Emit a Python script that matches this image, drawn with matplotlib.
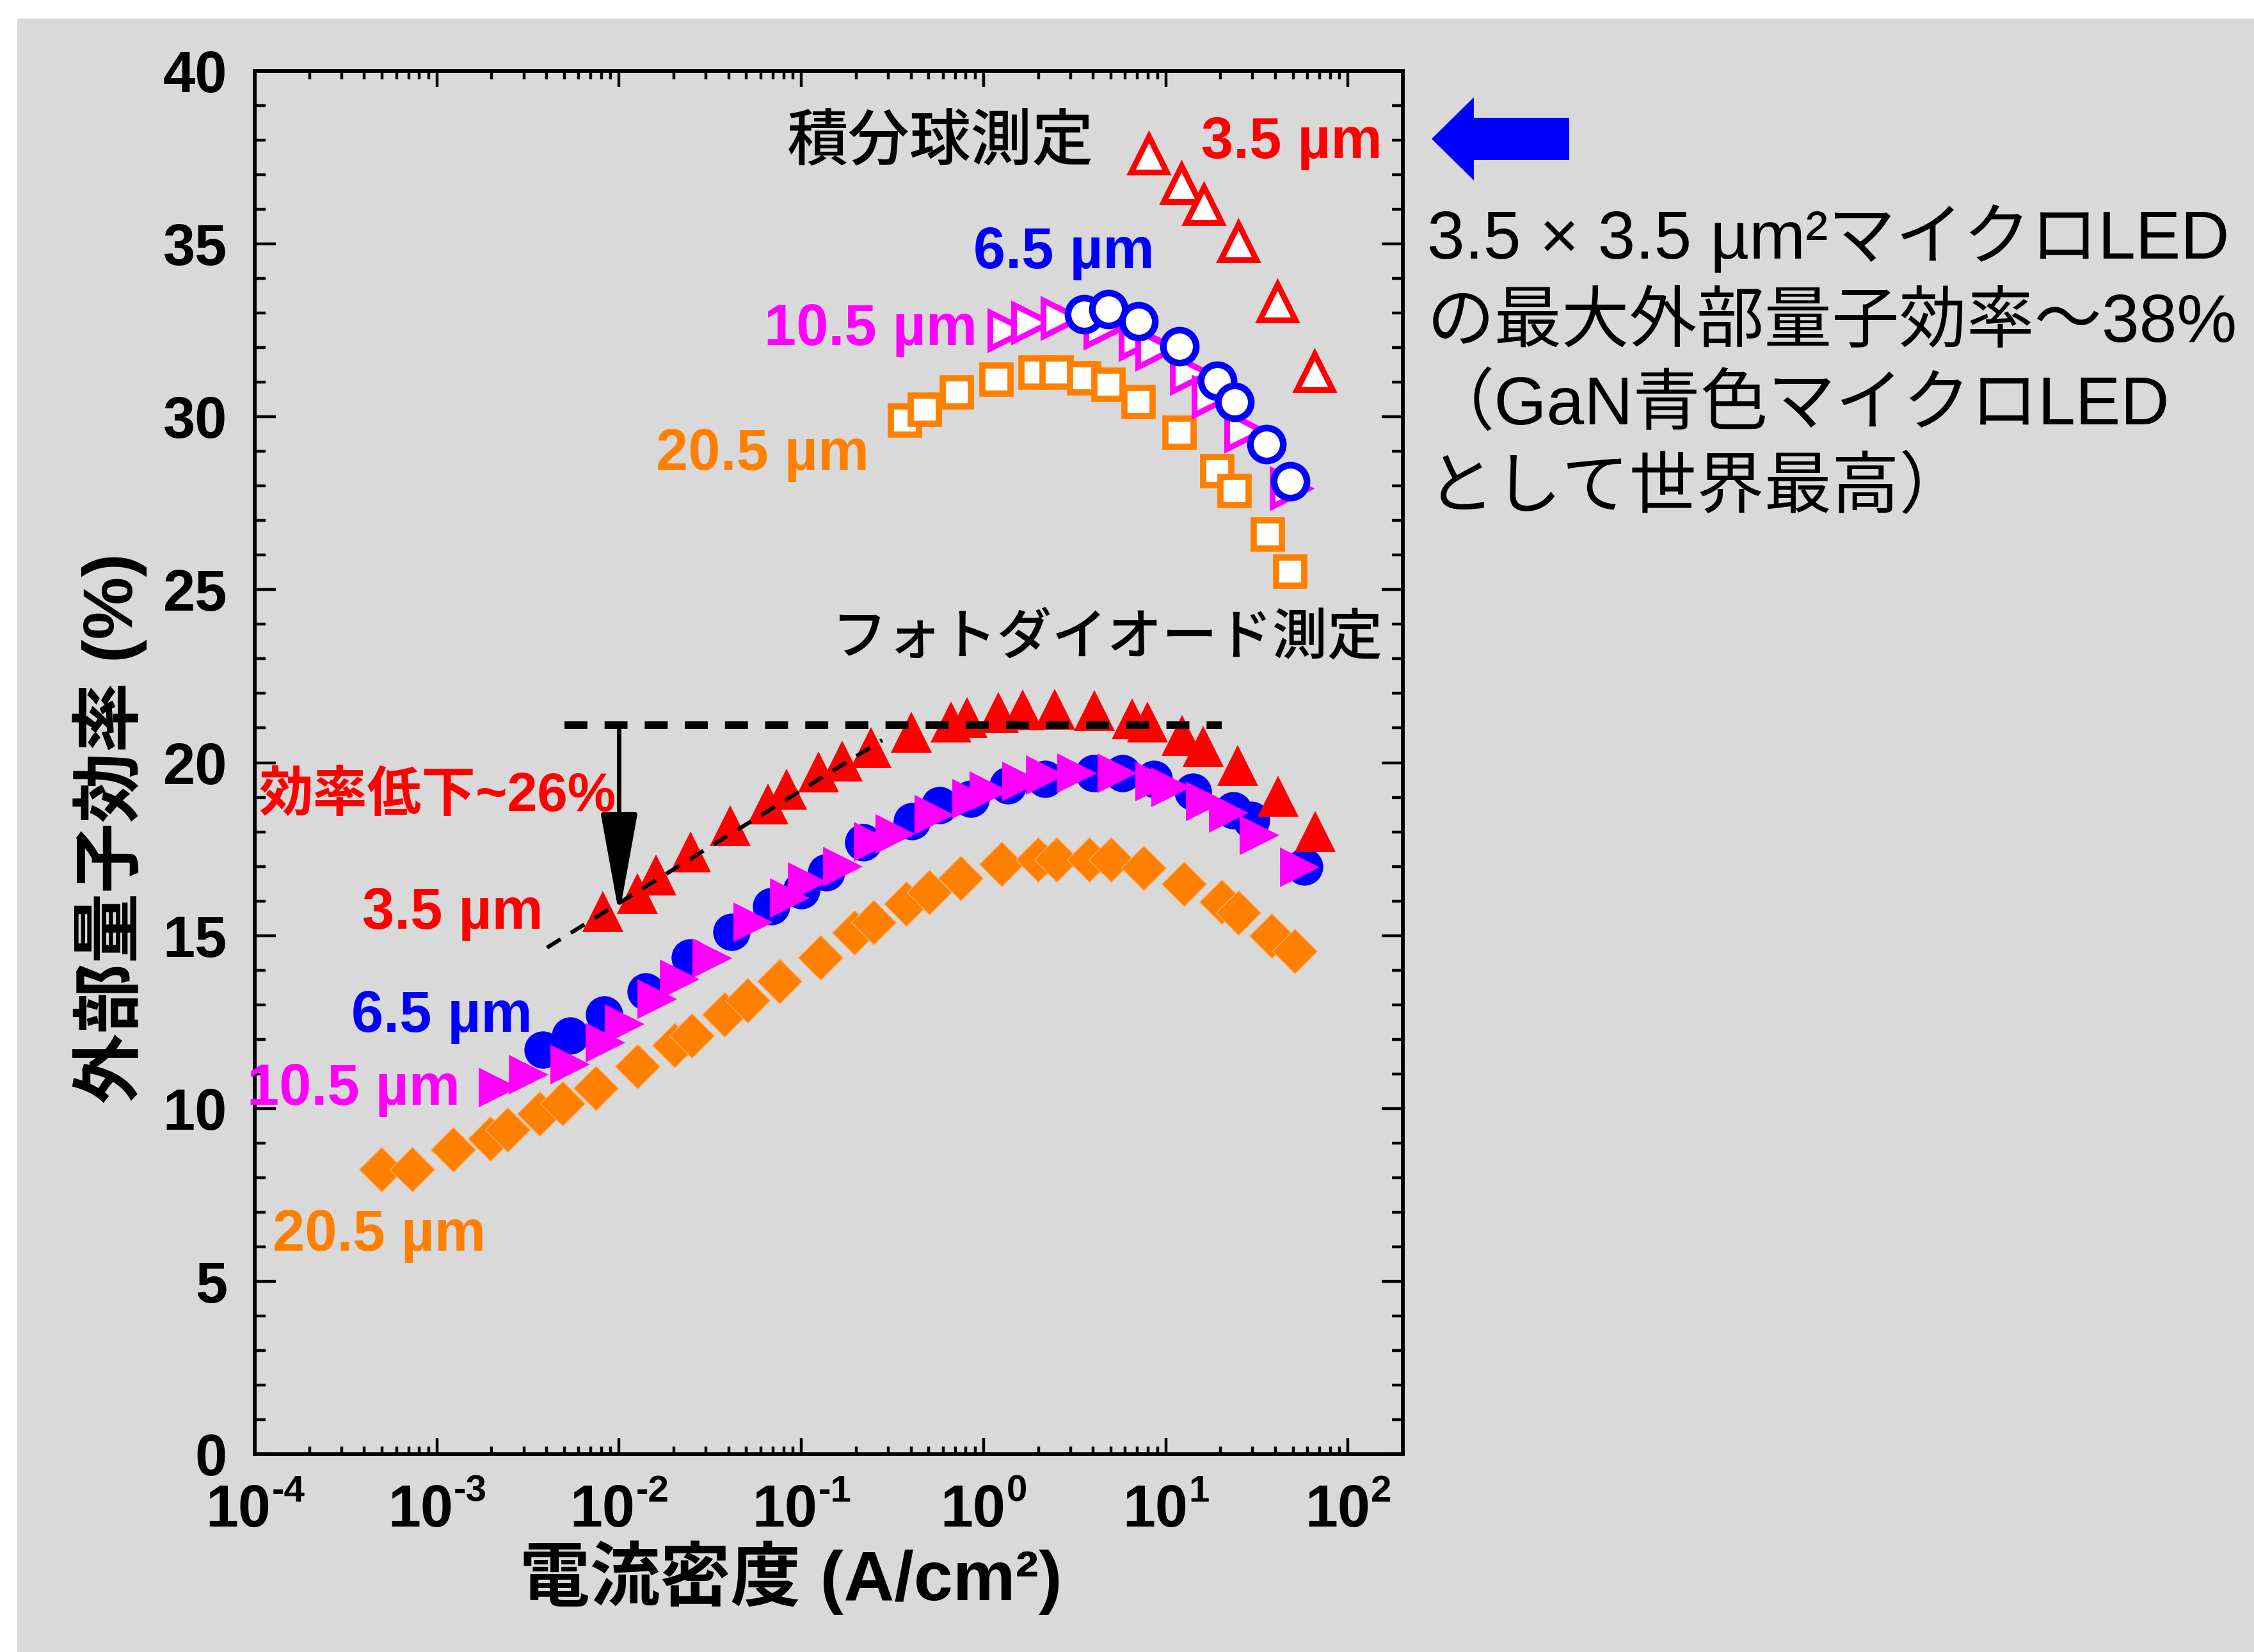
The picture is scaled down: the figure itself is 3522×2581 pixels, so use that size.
import matplotlib
matplotlib.use('Agg')
import matplotlib.pyplot as plt
import numpy as np
from matplotlib.patches import Rectangle, Polygon, FancyArrowPatch
from matplotlib.ticker import LogLocator, MultipleLocator, NullFormatter

FAM = ['Liberation Sans', 'Noto Sans CJK JP', 'DejaVu Sans']
plt.rcParams['font.family'] = FAM

# ---------------- data (current density A/cm2, EQE %) ----------------
# photodiode measurement (filled markers)
j_35_pd = [0.00813, 0.0126, 0.0159, 0.0247, 0.0407, 0.0655, 0.0828, 0.124, 0.167, 0.242,
           0.400, 0.664, 0.813, 1.21, 1.64, 2.45, 4.07, 6.52, 7.94, 12.3, 16.1, 24.9, 41.3, 66.1]
eqe_35_pd = [15.69, 16.21, 16.76, 17.41, 18.17, 18.80, 19.24, 19.73, 20.05, 20.44,
             20.87, 21.17, 21.31, 21.45, 21.52, 21.54, 21.50, 21.27, 21.17, 20.78, 20.48, 19.91, 19.02, 18.01]

j_65_pd = [0.00380, 0.00537, 0.00828, 0.0140, 0.0244, 0.0414, 0.0684, 0.100, 0.137, 0.219,
           0.406, 0.571, 0.849, 1.36, 2.17, 4.02, 5.78, 8.61, 14.1, 23.4, 29.4, 57.5]
eqe_65_pd = [11.69, 12.10, 12.72, 13.38, 14.37, 15.11, 15.85, 16.30, 16.83, 17.70,
             18.31, 18.77, 18.95, 19.35, 19.52, 19.69, 19.69, 19.52, 19.15, 18.62, 18.35, 17.00]

j_105_pd = [0.00217, 0.00318, 0.00537, 0.00843, 0.0107, 0.0162, 0.0214, 0.0324, 0.0543, 0.0865,
            0.108, 0.169, 0.250, 0.327, 0.537, 0.865, 1.08, 1.63, 2.19, 3.26, 5.41, 8.75, 10.7,
            16.6, 22.1, 32.8, 54.3]
eqe_105_pd = [10.61, 10.98, 11.27, 11.91, 12.43, 13.16, 13.74, 14.35, 15.39, 16.08,
              16.54, 17.00, 17.71, 17.94, 18.50, 18.96, 19.17, 19.46, 19.63, 19.70, 19.70, 19.46, 19.29,
              18.88, 18.55, 17.89, 16.98]

j_205_pd = [0.000495, 0.000729, 0.00123, 0.00196, 0.00243, 0.00367, 0.00490, 0.00745, 0.0126, 0.0202,
            0.0251, 0.0378, 0.0505, 0.0759, 0.127, 0.195, 0.250, 0.377, 0.504, 0.750, 1.26, 1.99,
            2.51, 3.81, 5.00, 7.57, 12.6, 20.2, 25.1, 38.0, 51.1]
eqe_205_pd = [8.24, 8.24, 8.81, 9.13, 9.38, 9.84, 10.15, 10.58, 11.22, 11.82,
              12.10, 12.71, 13.13, 13.68, 14.37, 15.09, 15.38, 15.92, 16.25, 16.66, 17.07, 17.20,
              17.20, 17.20, 17.20, 16.95, 16.50, 15.98, 15.66, 15.00, 14.55]

# integrating sphere measurement (open markers)
j_35_is = [8.07, 12.2, 16.2, 25.1, 41.1, 65.5]
eqe_35_is = [37.59, 36.74, 36.13, 35.06, 33.32, 31.30]

j_65_is = [3.57, 4.83, 7.11, 11.9, 19.1, 23.8, 35.6, 48.2]
eqe_65_is = [32.96, 33.12, 32.77, 32.04, 31.04, 30.43, 29.20, 28.13]

j_105_is = [1.36, 1.84, 2.66, 4.57, 7.14, 8.81, 13.6, 17.9, 27.2, 48.2]
eqe_105_is = [32.50, 32.73, 32.85, 32.58, 32.24, 31.96, 31.26, 30.58, 29.59, 27.94]

j_205_is = [0.370, 0.475, 0.713, 1.18, 1.92, 2.51, 3.57, 4.83, 7.11, 11.9, 19.1, 23.8, 36.2, 48.2]
eqe_205_is = [29.89, 30.20, 30.70, 31.08, 31.28, 31.28, 31.12, 30.93, 30.43, 29.55, 28.44, 27.86, 26.59, 25.52]

# guide lines
fit_j = [0.00402, 0.278]
fit_eqe = [14.65, 20.65]
hline_j = [0.00501, 20.3]
hline_eqe = [21.09, 21.09]
drop_j = 0.01
drop_eqe = [21.09, 15.6]

# ticks
ytick_values = [0, 5, 10, 15, 20, 25, 30, 35, 40]
ytick_labels = ['0', '5', '10', '15', '20', '25', '30', '35', '40']
xtick_values = [1e-4, 1e-3, 1e-2, 1e-1, 1e0, 1e1, 1e2]
xtick_exponents = ['-4', '-3', '-2', '-1', '0', '1', '2']

RED = '#ff0000'
BLUE = '#0000ff'
MAG = '#ff00ff'
ORG = '#ff8000'
BG = '#d9d9d9'

# ---------------- figure ----------------
W, H = 3522, 2581
fig = plt.figure(figsize=(W / 100, H / 100), dpi=100)
fig.patch.set_facecolor('white')
fig.patches.append(Rectangle((27 / W, 0), 1 - 27 / W, 1 - 29 / H, transform=fig.transFigure,
                             facecolor=BG, edgecolor='none', zorder=-10))

ax = fig.add_axes([398 / W, 1 - 2272 / H, (2192 - 398) / W, (2272 - 111) / H])
ax.set_facecolor('none')
ax.set_xscale('log')
ax.set_xlim(1e-4, 2e2)
ax.set_ylim(0, 40)

for s in ax.spines.values():
    s.set_linewidth(4.3)

ax.xaxis.set_major_locator(LogLocator(base=10, numticks=20))
ax.xaxis.set_minor_locator(LogLocator(base=10, subs=np.arange(2, 10), numticks=20))
ax.xaxis.set_minor_formatter(NullFormatter())
ax.set_yticks(ytick_values)
ax.set_yticklabels(ytick_labels, fontsize=65, fontweight='bold')
ax.yaxis.set_minor_locator(MultipleLocator(1))
ax.tick_params(which='both', direction='in', top=True, right=True, width=3.2, color='black')
ax.tick_params(axis='y', which='major', length=24, pad=31)
ax.tick_params(axis='y', which='minor', length=12)
ax.tick_params(axis='x', which='major', length=18, labelbottom=False)
ax.tick_params(axis='x', which='minor', length=9)

# x tick labels: "10" with superscript exponent
for xv, ex in zip(xtick_values, xtick_exponents):
    w10 = 1.112 * 66
    wexp = (0.333 * ex.startswith('-') + 0.556 * len(ex.lstrip('-'))) * 42
    split = w10 - (w10 + wexp) / 2
    ax.annotate('10', xy=(xv, 0), xycoords=('data', 'axes fraction'), xytext=(split, -81),
                textcoords='offset points', ha='right', va='baseline', fontsize=66,
                fontweight='bold', annotation_clip=False)
    ax.annotate(ex, xy=(xv, 0), xycoords=('data', 'axes fraction'), xytext=(split + 1, -53),
                textcoords='offset points', ha='left', va='baseline', fontsize=42,
                fontweight='bold', annotation_clip=False)

# axis labels
ax.text(-0.126, 0.4526, '外部量子効率 (%)', transform=ax.transAxes, rotation=90,
        ha='center', va='center', fontsize=79, fontweight='bold')
ax.text(0.467, -0.0893, '電流密度 (A/cm²)', transform=ax.transAxes,
        ha='center', va='center', fontsize=79, fontweight='bold')

# ---------------- data series ----------------
ax.plot(j_205_pd, eqe_205_pd, ls='none', marker='D', ms=36, mfc=ORG, mec='#ffb070', mew=1.0, zorder=3)
ax.plot(j_65_pd, eqe_65_pd, ls='none', marker='o', ms=42, mfc=BLUE, mec=BLUE, mew=0, zorder=3.2)
ax.plot(j_105_pd, eqe_105_pd, ls='none', marker='>', ms=45, mfc=MAG, mec=MAG, mew=0, zorder=3.4)
ax.plot(j_35_pd, eqe_35_pd, ls='none', marker='^', ms=46, mfc=RED, mec=RED, mew=0, zorder=3.6)

ax.plot(j_205_is, eqe_205_is, ls='none', marker='s', ms=32, mfc='white', mec=ORG, mew=7, zorder=3)
ax.plot(j_105_is, eqe_105_is, ls='none', marker='>', ms=41, mfc='white', mec=MAG, mew=6.5, zorder=3.2)
ax.plot(j_65_is, eqe_65_is, ls='none', marker='o', ms=37, mfc='white', mec=BLUE, mew=7.5, zorder=3.4)
ax.plot(j_35_is, eqe_35_is, ls='none', marker='^', ms=40, mfc='white', mec=RED, mew=6.5, zorder=3.6)

# guide lines
ax.plot(fit_j, fit_eqe, color='black', lw=4.5, dashes=(4, 3), zorder=6)
ax.plot(hline_j, hline_eqe, color='black', lw=8.6, dashes=(3, 2.25), dash_capstyle='butt', zorder=6)
ax.add_patch(FancyArrowPatch((drop_j, drop_eqe[0]), (drop_j, drop_eqe[1]),
                             arrowstyle='-|>,head_length=99,head_width=18', mutation_scale=1,
                             lw=5, color='black', shrinkA=0, shrinkB=0, zorder=7))

# ---------------- annotations ----------------
ax.text(0.581, 37.89, '積分球測定', ha='center', va='center', fontsize=69, fontweight='medium')
ax.text(4.75, 23.55, 'フォトダイオード測定', ha='center', va='center', fontsize=62, fontweight='medium')

lab_kw = dict(ha='center', va='baseline', fontsize=65, fontweight='bold')
ax.text(49.1, 37.49, '3.5 µm', color=RED, **lab_kw)
ax.text(2.77, 34.3, '6.5 µm', color=BLUE, **lab_kw)
ax.text(0.240, 32.07, '10.5 µm', color=MAG, **lab_kw)
ax.text(0.0611, 28.46, '20.5 µm', color=ORG, **lab_kw)
ax.text(0.00122, 15.19, '3.5 µm', color=RED, **lab_kw)
ax.text(0.00106, 12.21, '6.5 µm', color=BLUE, **lab_kw)
ax.text(0.000348, 10.11, '10.5 µm', color=MAG, zorder=8, **lab_kw)
ax.text(0.000481, 5.89, '20.5 µm', color=ORG, **lab_kw)
ax.text(0.00964, 18.6, '効率低下~26%', color=RED, ha='right', va='baseline', fontsize=61,
        fontweight='bold', zorder=8)

# blue arrow pointing at the 3.5 um sphere data
arrow_px = [(2237, 217), (2303, 152), (2303, 184), (2452, 184), (2452, 250), (2303, 250), (2303, 282)]
fig.patches.append(Polygon([(x / W, 1 - y / H) for x, y in arrow_px], closed=True,
                           transform=fig.transFigure, facecolor=BLUE, edgecolor='none'))

# right-hand comment
notes = ['3.5 × 3.5 µm²マイクロLED', 'の最大外部量子効率～38%', '（GaN青色マイクロLED', 'として世界最高）']
note_y = [404.5, 534, 663, 793]
for t, yy in zip(notes, note_y):
    fig.text(2230 / W, 1 - yy / H, t, ha='left', va='baseline', fontsize=76)

fig.savefig('out.png', dpi=100, facecolor=fig.get_facecolor())
